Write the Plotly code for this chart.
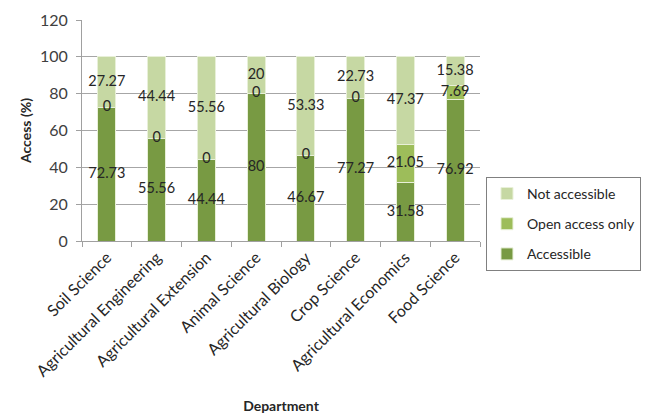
import plotly.graph_objects as go
import numpy as np

departments = ["Soil Science", "Agricultural Engineering", "Agricultural Extension",
               "Animal Science", "Agricultural Biology", "Crop Science",
               "Agricultural Economics", "Food Science"]
accessible = [72.73, 55.56, 44.44, 80, 46.67, 77.27, 31.58, 76.92]
open_access_only = [0, 0, 0, 0, 0, 0, 21.05, 7.69]
not_accessible = [27.27, 44.44, 55.56, 20, 53.33, 22.73, 47.37, 15.38]
y_ticks = [0, 20, 40, 60, 80, 100, 120]

series = [
    ("Accessible", accessible, "#789a43", 3),
    ("Open access only", open_access_only, "#9dbd5a", 2),
    ("Not accessible", not_accessible, "#c6d8a3", 1),
]

fig = go.Figure()
base = np.zeros(len(departments))
label_x, label_y, label_t = [], [], []
for name, vals, col, rank in series:
    v = np.array(vals, dtype=float)
    fig.add_trace(go.Bar(
        x=departments, y=v, name=name, legendgroup=name, legendrank=rank,
        marker=dict(color=col, line=dict(color="#e8f0d8", width=1)),
        width=0.36,
    ))
    for i, d in enumerate(departments):
        label_x.append(d)
        label_y.append(base[i] + v[i] / 2)
        label_t.append(f"{vals[i]:g}")
    base = base + v

fig.add_trace(go.Scatter(
    x=label_x, y=label_y, text=label_t, mode="text", showlegend=False,
    textfont=dict(family="Lato, sans-serif", size=14.5, color="#262626"), hoverinfo="skip",
))

fig.update_layout(
    width=653, height=416,
    barmode="stack",
    plot_bgcolor="white", paper_bgcolor="white",
    margin=dict(l=82, r=173, t=20, b=175),
    font=dict(family="Lato, sans-serif", size=14, color="#404040"),
    legend=dict(
        x=1.015, y=0.29, xanchor="left", yanchor="top",
        traceorder="grouped", bordercolor="#808080", borderwidth=1,
        font=dict(size=14, color="#262626"), itemwidth=30, tracegroupgap=9,
    ),
)
fig.update_xaxes(
    automargin=False,
    tickangle=-45, showline=True, linecolor="#a0a0a0",
    ticks="outside", ticklen=5, tickcolor="#a0a0a0",
    tickson="boundaries",
    tickfont=dict(size=16, color="#262626"),
    title=dict(text="<b>Department</b>", font=dict(size=14, color="#262626"), standoff=22),
)
fig.update_yaxes(
    automargin=False,
    range=[0, 120], tickvals=y_ticks, showgrid=True, gridcolor="#a6a6a6",
    showline=True, linecolor="#a0a0a0", ticks="outside", ticklen=5, tickcolor="#a0a0a0",
    ticklabelstandoff=5,
    tickfont=dict(size=16, color="#404040"), zeroline=False,
    title=dict(text="<b>Access (%)</b>", font=dict(size=14, color="#262626"), standoff=5),
)

fig.write_html("out.html")
